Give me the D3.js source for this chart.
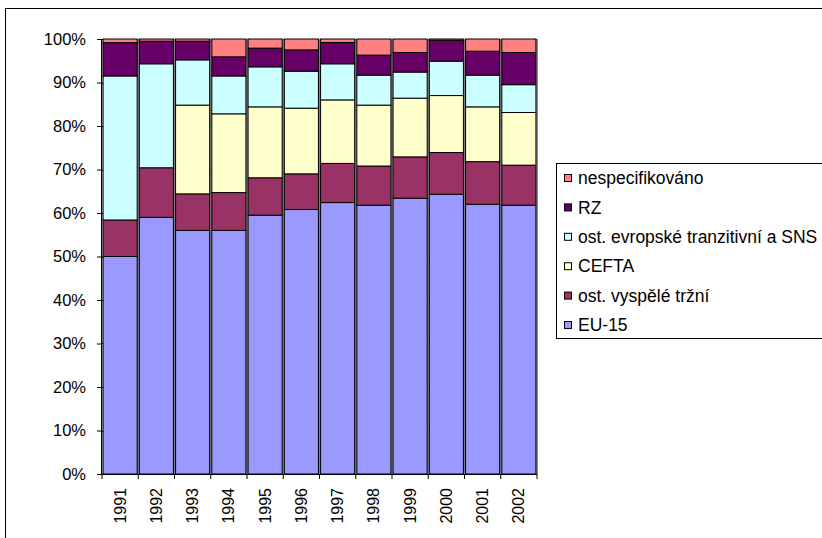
<!DOCTYPE html>
<html>
<head>
<meta charset="utf-8">
<script src="https://cdn.jsdelivr.net/npm/d3@7"></script>
<style>
  body { margin: 0; background: #fff; }
  svg { display: block; font-family: "Liberation Sans", Arial, sans-serif; }
</style>
</head>
<body>
<svg id="chart" width="822" height="538"></svg>
<script>
const years = ["1991", "1992", "1993", "1994", "1995", "1996", "1997", "1998", "1999", "2000", "2001", "2002"];
const seriesNames = ["EU-15", "ost. vyspělé tržní", "CEFTA", "ost. evropské tranzitivní a SNS", "RZ", "nespecifikováno"];
const seriesColors = ["#9999ff", "#993366", "#ffffcc", "#ccffff", "#660066", "#ff8080"];

const eu15 =       [50.0, 59.0, 56.0, 56.0, 59.5, 60.8, 62.4, 61.8, 63.4, 64.3, 62.0, 61.8];
const ostVyspele = [8.4, 11.4, 8.4, 8.7, 8.6, 8.2, 9.0, 9.0, 9.5, 9.6, 9.8, 9.2];
const cefta =      [0.0, 0.0, 20.4, 18.1, 16.3, 15.1, 14.6, 14.0, 13.5, 13.1, 12.6, 12.1];
const ostEvropske = [33.1, 23.9, 10.4, 8.7, 9.2, 8.5, 8.3, 6.9, 6.0, 7.9, 7.3, 6.4];
const rz =         [7.65, 5.2, 4.3, 4.4, 4.3, 4.9, 4.9, 4.6, 4.5, 4.8, 5.5, 7.4];
const nespec =     [0.85, 0.5, 0.5, 4.1, 2.1, 2.5, 0.8, 3.7, 3.1, 0.3, 2.8, 3.1];

const yTicks = [0, 0.1, 0.2, 0.3, 0.4, 0.5, 0.6, 0.7, 0.8, 0.9, 1];

const seriesValues = [eu15, ostVyspele, cefta, ostEvropske, rz, nespec];
const rows = years.map((y, i) => {
    const r = { year: y };
    seriesNames.forEach((s, k) => { r[s] = seriesValues[k][i]; });
    return r;
});

const svg = d3.select("#chart");
const plotLeft = 102, plotRight = 537, plotTop = 39, plotBottom = 474;

// chart area frame (runs off the right and bottom edges)
svg.append("rect")
    .attr("x", 5.5).attr("y", 8.5)
    .attr("width", 900).attr("height", 600)
    .attr("fill", "#fff").attr("stroke", "#000");

const xScale = d3.scaleBand().domain(years).range([plotLeft, plotRight]).paddingInner(0.06).paddingOuter(0.03);
const yScale = d3.scaleLinear().domain([0, 1]).range([plotBottom, plotTop]);

const stacked = d3.stack().keys(seriesNames).offset(d3.stackOffsetExpand)(rows);

// plot area
svg.append("rect")
    .attr("x", plotLeft).attr("y", plotTop)
    .attr("width", plotRight - plotLeft).attr("height", plotBottom - plotTop)
    .attr("fill", "#c0c0c0");

svg.append("g")
    .selectAll("line")
    .data(yTicks)
    .join("line")
    .attr("x1", plotLeft).attr("x2", plotRight)
    .attr("y1", d => Math.round(yScale(d)) + 0.5)
    .attr("y2", d => Math.round(yScale(d)) + 0.5)
    .attr("stroke", "#000");

// bar shadows
svg.append("g")
    .selectAll("rect")
    .data(years)
    .join("rect")
    .attr("x", d => xScale(d) + 2)
    .attr("y", yScale(1))
    .attr("width", xScale.bandwidth())
    .attr("height", yScale(0) - yScale(1))
    .attr("fill", "#808080");

svg.append("g")
    .selectAll("g")
    .data(stacked)
    .join("g")
    .attr("fill", (d, i) => seriesColors[i])
    .selectAll("rect")
    .data(d => d)
    .join("rect")
    .attr("x", d => xScale(d.data.year))
    .attr("y", d => yScale(d[1]))
    .attr("width", xScale.bandwidth())
    .attr("height", d => yScale(d[0]) - yScale(d[1]))
    .attr("stroke", "#000")
    .attr("stroke-width", 1);

// axes
const yAxis = svg.append("g")
    .attr("transform", `translate(${plotLeft},0)`)
    .call(d3.axisLeft(yScale).tickValues(yTicks).tickFormat(d3.format(".0%")).tickSize(5).tickPadding(11));

const xAxis = svg.append("g")
    .attr("transform", `translate(0,${plotBottom})`)
    .call(d3.axisBottom(xScale).tickSize(0).tickFormat(d => d));

xAxis.selectAll(".tick text")
    .attr("transform", "rotate(-90)")
    .attr("text-anchor", "end")
    .attr("x", -14)
    .attr("y", 0)
    .attr("dy", "0.35em");

// category boundary ticks
xAxis.append("g")
    .selectAll("line")
    .data(d3.range(years.length + 1))
    .join("line")
    .attr("x1", i => plotLeft + i * (plotRight - plotLeft) / years.length)
    .attr("x2", i => plotLeft + i * (plotRight - plotLeft) / years.length)
    .attr("y1", 0).attr("y2", 5)
    .attr("stroke", "#000");

[yAxis, xAxis].forEach(a => {
    a.selectAll("text").attr("fill", "#000")
        .attr("font-family", "'Liberation Sans', Arial, sans-serif");
    a.select(".domain").attr("stroke", "#000");
});
yAxis.selectAll("text").attr("font-size", 16.5);
xAxis.selectAll("text").attr("font-size", 16);
yAxis.select(".domain").attr("d", `M-0.5,${plotTop}V${plotBottom}`);
xAxis.select(".domain").attr("d", `M${plotLeft},0.5H${plotRight}`);

// legend
const legend = svg.append("g");
legend.append("rect")
    .attr("x", 556.5).attr("y", 163.5)
    .attr("width", 400).attr("height", 175)
    .attr("fill", "#fff").attr("stroke", "#000");

const legendItems = seriesNames.map((s, i) => ({ name: s, color: seriesColors[i] })).reverse();
const item = legend.selectAll("g.item")
    .data(legendItems)
    .join("g")
    .attr("class", "item")
    .attr("transform", (d, i) => `translate(0,${178 + i * 29.4})`);

item.append("rect")
    .attr("x", 564.5).attr("y", -3.5)
    .attr("width", 7).attr("height", 7)
    .attr("fill", d => d.color).attr("stroke", "#000");

item.append("text")
    .attr("x", 578).attr("y", 0)
    .attr("dy", "0.35em")
    .attr("font-size", 17.5)
    .text(d => d.name);
</script>
</body>
</html>
